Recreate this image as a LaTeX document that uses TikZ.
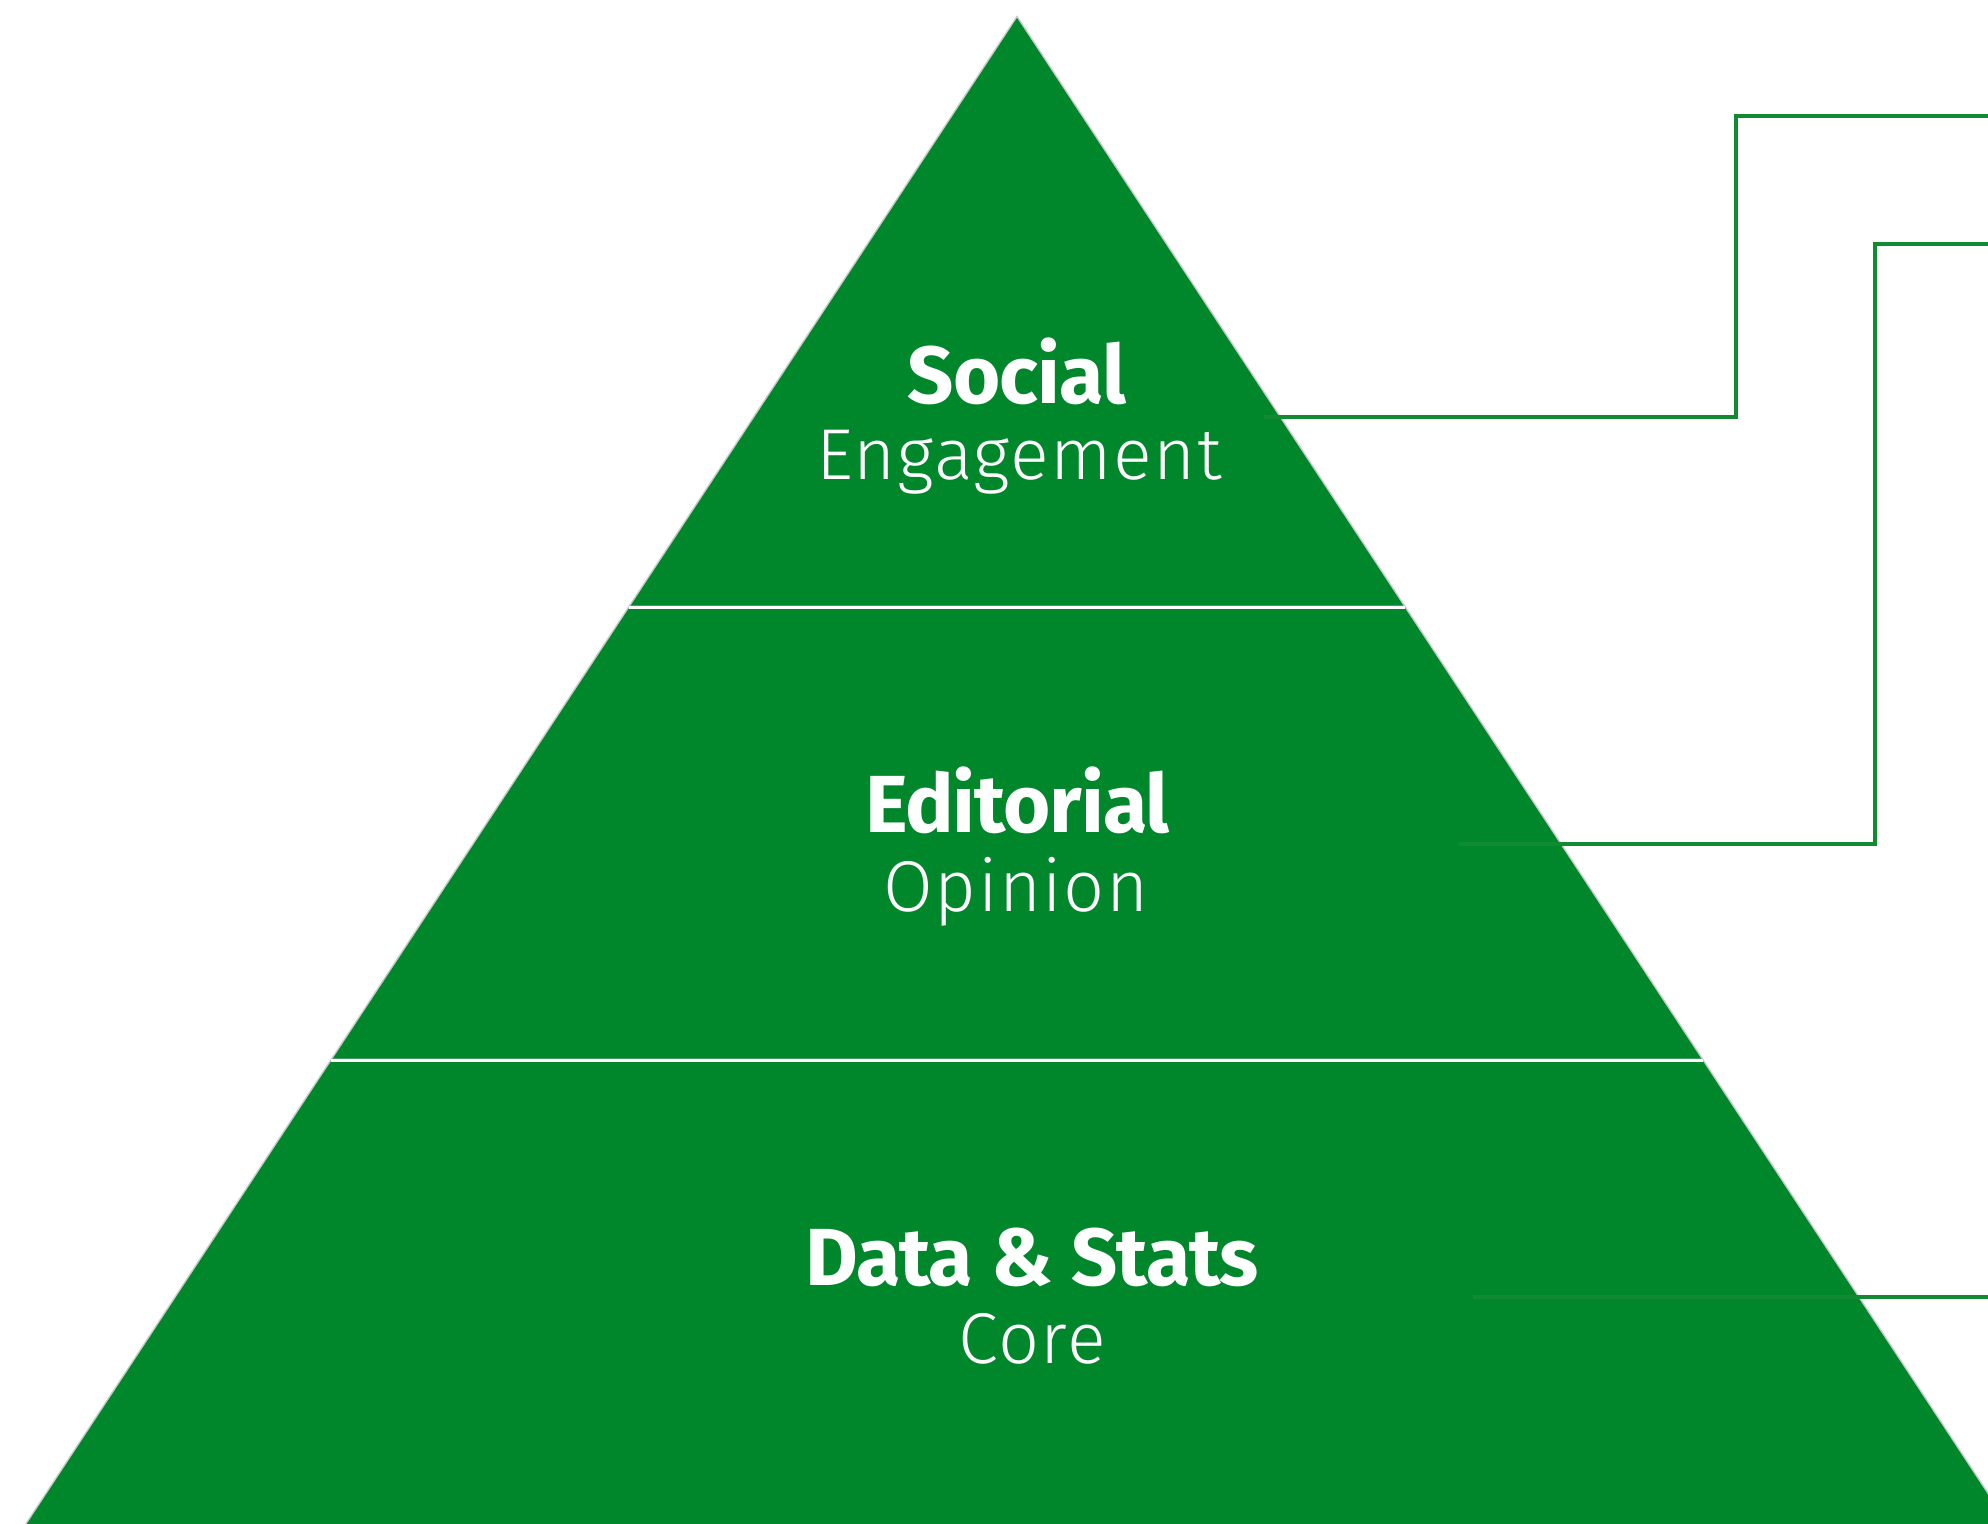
\documentclass[tikz,border=0pt]{standalone}
\usepackage{fontspec}
\setmainfont{Fira Sans}
\newfontfamily\lightfont{Fira Sans Light}[LetterSpace=2.2]
\newfontfamily\boldfont{Fira Sans}[LetterSpace=-1.2]
\definecolor{pyrgreen}{RGB}{1,135,43}
\definecolor{conngreen}{RGB}{18,138,50}
\tikzset{
  tierbold/.style={text=white, inner sep=0pt, anchor=base, font=\fontsize{81}{90}\selectfont\boldfont\bfseries},
  tierlight/.style={text=white, inner sep=0pt, anchor=base, font=\fontsize{72}{80}\selectfont\lightfont},
  conn/.style={draw=conngreen, line width=4.5pt, line join=miter},
  divider/.style={draw=white, line width=2.5pt},
}
\begin{document}
\begin{tikzpicture}[x=1pt, y=-1pt]
\useasboundingbox (0,0) rectangle (1988,1523);
\clip (0,0) rectangle (1988,1523);
% pyramid
\coordinate (apex) at (1017,18);
\coordinate (bl) at (-35,1618);
\coordinate (br) at (2069,1618);
\draw[black!35, line width=3pt, opacity=0.6] (apex) -- (bl) -- (br) -- cycle;
\fill[pyrgreen] (apex) -- (bl) -- (br) -- cycle;
% dividers
\coordinate (d1l) at (629,607.5);
\coordinate (d1r) at (1405,607.5);
\coordinate (d2l) at (331,1060.5);
\coordinate (d2r) at (1703,1060.5);
\draw[black!30, line width=2.5pt, opacity=0.4] ([yshift=1pt]d1l) -- ([yshift=1pt]d1r);
\draw[black!30, line width=2.5pt, opacity=0.4] ([yshift=1pt]d2l) -- ([yshift=1pt]d2r);
\draw[divider] (d1l) -- (d1r);
\draw[divider] (d2l) -- (d2r);
% connectors
\coordinate (c1a) at (1264,417);
\coordinate (c1b) at (1736,116);
\coordinate (c1c) at (1995,116);
\coordinate (c2a) at (1459,844);
\coordinate (c2b) at (1875,244);
\coordinate (c2c) at (1995,244);
\coordinate (c3a) at (1473,1297);
\coordinate (c3b) at (1995,1297);
\draw[conn] (c1a) -| (c1b) -- (c1c);
\draw[conn] (c2a) -| (c2b) -- (c2c);
\draw[conn] (c3a) -- (c3b);
% labels
\node[tierbold] (social) at (1017,403) {Social};
\node[tierlight] (engage) at (1019,479) {Engagement};
\node[tierbold] (editorial) at (1017.5,832) {Editorial};
\node[tierlight] (opinion) at (1016,911) {Opinion};
\node[tierbold] (data) at (1032,1285) {Data \& Stats};
\node[tierlight] (core) at (1032,1363) {Core};
\end{tikzpicture}
\end{document}
